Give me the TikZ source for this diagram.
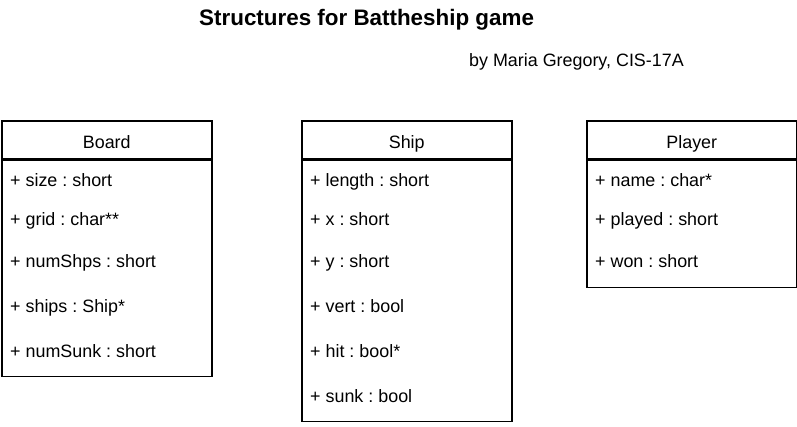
\documentclass[tikz,border=0pt]{standalone}
\usepackage{fontspec}
\setmainfont{Liberation Sans}
\frenchspacing
\begin{document}
\begin{tikzpicture}[x=1pt,y=-1pt,
  classhead/.style={draw, line width=1.5pt, anchor=north west, minimum width=210pt, minimum height=38pt, inner sep=0pt, text height=16.6pt, text depth=0pt, font=\fontsize{17.9}{20}\selectfont},
  classbody/.style={draw, line width=1.5pt, anchor=north west, minimum width=210pt, inner sep=0pt},
  attr/.style={anchor=base west, inner sep=0pt, font=\fontsize{17.9}{20}\selectfont}]
\useasboundingbox (0,0) rectangle (797,426);

% title
\node[anchor=base west, inner sep=0pt, font=\fontsize{22.4}{26}\selectfont\bfseries] (title) at (199,25.7) {Structures for Battheship game};
\node[anchor=base west, inner sep=0pt, font=\fontsize{17.9}{20}\selectfont] (author) at (469,66.7) {by Maria Gregory, CIS-17A};

% Board
\node[classhead] (boardhead) at (1,120) {Board};
\node[classbody, minimum height=216pt] (boardbody) at (boardhead.south west) {};
\node[attr] (bsize) at (10,186.7) {+ size : short};
\node[attr] (bgrid) at (10,225) {+ grid : char**};
\node[attr] (bnum) at (10,267.7) {+ numShps : short};
\node[attr] (bships) at (10,312.7) {+ ships : Ship*};
\node[attr] (bsunk) at (10,357.2) {+ numSunk : short};

% Ship
\node[classhead] (shiphead) at (301,120) {Ship};
\node[classbody, minimum height=261pt] (shipbody) at (shiphead.south west) {};
\node[attr] (slen) at (310,186.7) {+ length : short};
\node[attr] (sx) at (310,225) {+ x : short};
\node[attr] (sy) at (310,267.7) {+ y : short};
\node[attr] (svert) at (310,312.7) {+ vert : bool};
\node[attr] (shit) at (310,357.7) {+ hit : bool*};
\node[attr] (ssunk) at (310,402.7) {+ sunk : bool};

% Player
\node[classhead] (playerhead) at (586,120) {Player};
\node[classbody, minimum height=127pt] (playerbody) at (playerhead.south west) {};
\node[attr] (pname) at (595,186.7) {+ name : char*};
\node[attr] (pplayed) at (595,225) {+ played : short};
\node[attr] (pwon) at (595,267.7) {+ won : short};

\end{tikzpicture}
\end{document}
